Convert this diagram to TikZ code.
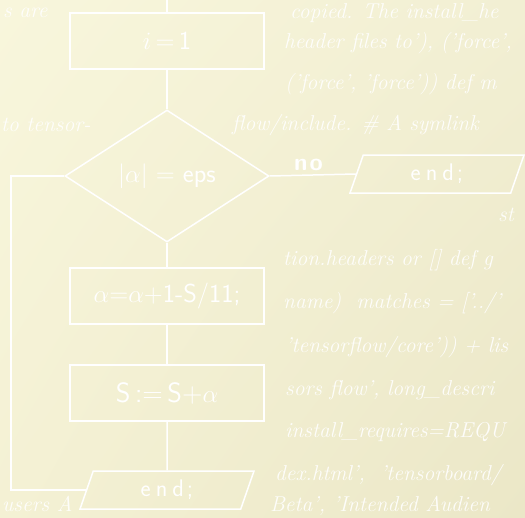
\documentclass[tikz,border=0pt]{standalone}
\usetikzlibrary{shapes.geometric,shadings}
\definecolor{bgUL}{HTML}{F8F6DC}
\definecolor{bgLL}{HTML}{F4F1D4}
\definecolor{bgUR}{HTML}{F2EFD3}
\definecolor{bgLR}{HTML}{EBE7C7}
\begin{document}
\begin{tikzpicture}[x=1pt,y=-1pt,
  flow/.style={draw=white, line width=1.5pt},
  boxnode/.style={flow, rectangle, minimum width=194pt, minimum height=56pt, inner sep=0pt,
    text=white, font=\sffamily\fontsize{26}{30}\selectfont},
  decision/.style={flow, diamond, minimum width=204pt, minimum height=132pt, inner sep=0pt,
    text=white, font=\sffamily\fontsize{26}{30}\selectfont},
  iobox/.style={flow, trapezium, trapezium left angle=56, trapezium right angle=124,
    trapezium stretches body=true, minimum width=174pt, minimum height=38pt, inner sep=0pt,
    text=white, font=\sffamily\fontsize{24}{28}\selectfont},
  bgtext/.style={anchor=base west, inner sep=0pt, text=white, opacity=.9,
    font=\itshape\fontsize{21.5}{25}\selectfont},
  lbl/.style={text=white, inner sep=0pt, font=\sffamily\bfseries\fontsize{24}{28}\selectfont}]
\useasboundingbox (0,0) rectangle (525,517);
\clip (0,0) rectangle (525,517);
\shade[upper left=bgUL, lower left=bgLL, upper right=bgUR, lower right=bgLR] (0,0) rectangle (525,517);
% background text
\node[bgtext] (t0) at (3,17) {s are};
\node[bgtext] (t1) at (290,18) {copied. The install\_he};
\node[bgtext] (t2) at (284,48) {header files to'), ('force',};
\node[bgtext] (t3) at (285,89) {('force', 'force')) def m};
\node[bgtext] (t4a) at (1,131) {to tensor-};
\node[bgtext] (t4b) at (232,130) {flow/include. \# A symlink};
\node[bgtext] (t5) at (498,221) {st};
\node[bgtext] (t6) at (283,265) {tion.headers or [] def g};
\node[bgtext] (t7) at (283,308) {name)\ \ matches = ['../'};
\node[bgtext] (t8) at (285,352) {'tensorflow/core')) + lis};
\node[bgtext] (t9) at (285,395) {sors flow', long\_descri};
\node[bgtext] (t10) at (285,437) {install\_requires=REQU};
\node[bgtext] (t11) at (275,480) {dex.html',\ \ 'tensorboard/};
\node[bgtext] (t12) at (270,511) {Beta', 'Intended Audien};
\node[bgtext] (t13) at (2,511) {users A};
% flowchart
\coordinate (topin) at (167,0);
\node[boxnode] (b1) at (167,41) {$i$\,=\,1};
\node[decision] (d) at (167,176) {$|\alpha|$ = eps};
\node[boxnode] (b2) at (167,296) {$\alpha$=$\alpha$+1-S/11;};
\node[boxnode, font=\sffamily\fontsize{28}{32}\selectfont] (b3) at (167,393) {S\,:=\,S+$\alpha$};
\node[iobox] (e1) at (437,174) {e\hspace{5pt}n\hspace{5pt}d\hspace{3pt};};
\node[iobox] (e2) at (167,490) {e\hspace{5pt}n\hspace{5pt}d\hspace{3pt};};
\coordinate (lft) at (11,178);
\draw[flow] (topin) -- (b1.north);
\draw[flow] (b1.south) -- (d.north);
\draw[flow] (d.south) -- (b2.north);
\draw[flow] (b2.south) -- (b3.north);
\draw[flow] (b3.south) -- (e2.north);
\draw[flow] (d.east) -- node[lbl, above=4pt, pos=0.45] (no) {n\hspace{2pt}o} (e1.west);
\draw[flow] (d.west) -- (d.west -| lft) |- (e2.west);
\end{tikzpicture}
\end{document}
